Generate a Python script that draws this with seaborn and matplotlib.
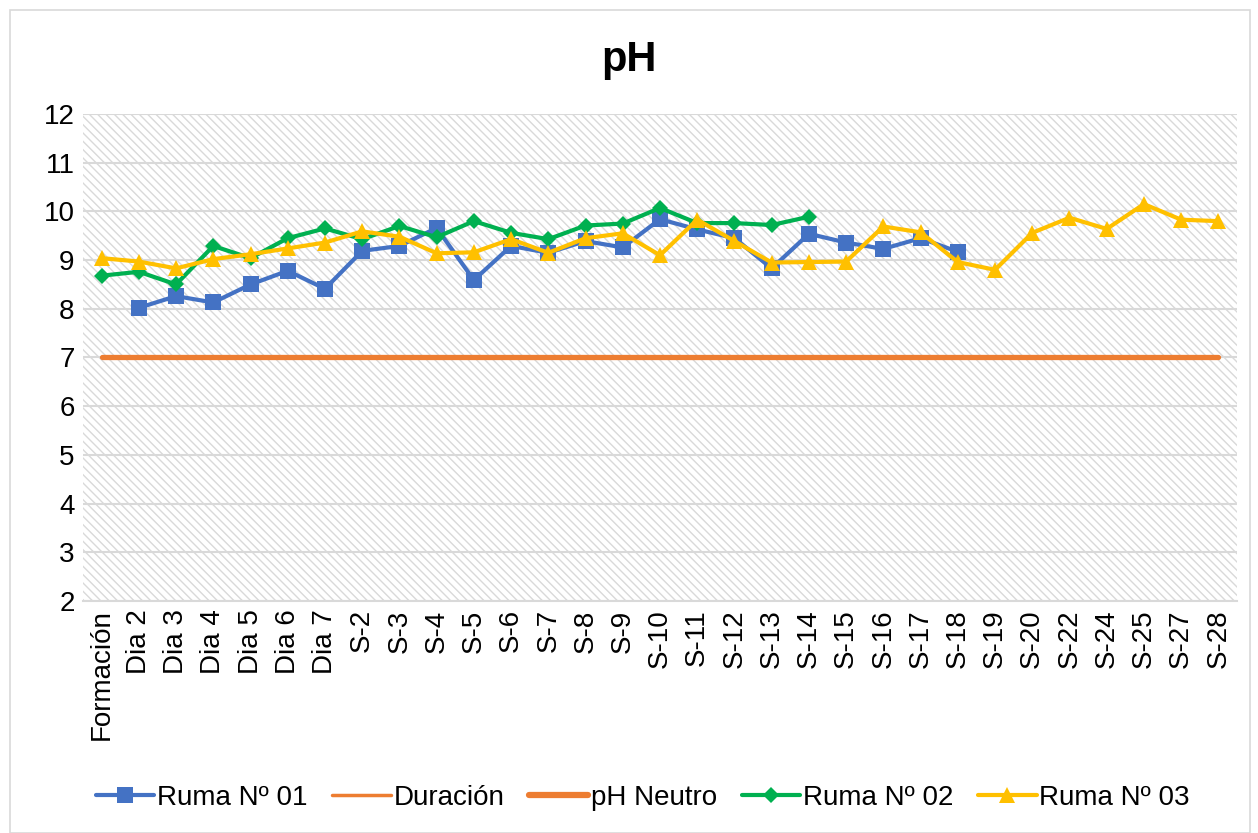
import numpy as np
import pandas as pd
import matplotlib
matplotlib.use("Agg")
import matplotlib.pyplot as plt
from matplotlib.lines import Line2D
from matplotlib.patches import Rectangle
import seaborn as sns

categories = ["Formación", "Dia 2", "Dia 3", "Dia 4", "Dia 5", "Dia 6", "Dia 7",
              "S-2", "S-3", "S-4", "S-5", "S-6", "S-7", "S-8", "S-9", "S-10",
              "S-11", "S-12", "S-13", "S-14", "S-15", "S-16", "S-17", "S-18",
              "S-19", "S-20", "S-22", "S-24", "S-25", "S-27", "S-28"]

nan = np.nan
ruma01 = [nan, 8.02, 8.26, 8.13, 8.50, 8.78, 8.41, 9.19, 9.29, 9.66, 8.59, 9.29,
          9.15, 9.39, 9.26, 9.84, 9.63, 9.45, 8.83, 9.54, 9.36, 9.23, 9.45, 9.17,
          nan, nan, nan, nan, nan, nan, nan]
ruma02 = [8.68, 8.76, 8.50, 9.29, 9.04, 9.45, 9.65, 9.43, 9.70, 9.47, 9.80, 9.56,
          9.43, 9.71, 9.75, 10.07, 9.76, 9.76, 9.72, 9.89,
          nan, nan, nan, nan, nan, nan, nan, nan, nan, nan, nan]
ruma03 = [9.04, 8.97, 8.83, 9.02, 9.12, 9.24, 9.36, 9.59, 9.48, 9.14, 9.16, 9.43,
          9.15, 9.45, 9.55, 9.10, 9.83, 9.39, 8.95, 8.96, 8.97, 9.69, 9.57, 8.96,
          8.80, 9.56, 9.87, 9.64, 10.15, 9.83, 9.80]
ph_neutro = [7] * len(categories)

yticks = list(range(2, 13))

BLUE = "#4472C4"
ORANGE = "#ED7D31"
GREEN = "#00B050"
YELLOW = "#FFC000"
GRID = "#D9D9D9"
HATCH = "#D9D9D9"

sns.set_theme(style="white")
plt.rcParams["font.family"] = ["Liberation Sans", "DejaVu Sans"]
plt.rcParams["text.color"] = "black"
plt.rcParams["hatch.color"] = HATCH
plt.rcParams["hatch.linewidth"] = 1.0

fig = plt.figure(figsize=(12.58, 8.33), dpi=100)
ax = fig.add_axes([83 / 1258, 1 - 601 / 833, (1237 - 83) / 1258, (601 - 114) / 833])

# hatched plot background
ax.add_patch(Rectangle((0, 0), 1, 1, transform=ax.transAxes, facecolor="white",
                       edgecolor=HATCH, linewidth=0, hatch="\\\\\\\\", zorder=0))

x = np.arange(len(categories))
df = pd.DataFrame({"x": x, "r1": ruma01, "r2": ruma02, "r3": ruma03, "ph": ph_neutro})

sns.lineplot(data=df, x="x", y="ph", ax=ax, color=ORANGE, linewidth=3.8, zorder=3)
sns.lineplot(data=df, x="x", y="r1", ax=ax, color=BLUE, linewidth=3.0,
             marker="s", markersize=11, markeredgewidth=0, zorder=4)
sns.lineplot(data=df, x="x", y="r2", ax=ax, color=GREEN, linewidth=3.0,
             marker="D", markersize=8.5, markeredgewidth=0, zorder=5)
sns.lineplot(data=df, x="x", y="r3", ax=ax, color=YELLOW, linewidth=3.0,
             marker="^", markersize=12, markeredgewidth=0, zorder=6)

ax.set_xlim(-0.5, len(categories) - 0.5)
ax.set_ylim(2, 12)
ax.set_yticks(yticks)
ax.set_yticklabels([str(t) for t in yticks], fontsize=20)
ax.set_xticks(x)
ax.set_xticklabels(categories, rotation=90, fontsize=20)
ax.tick_params(axis="both", length=0, pad=6, colors="black")
ax.set_xlabel("")
ax.set_ylabel("")
ax.grid(axis="y", color=GRID, linewidth=1.5, zorder=1)
ax.set_axisbelow(True)
for s in ["left", "right", "top"]:
    ax.spines[s].set_visible(False)
ax.spines["bottom"].set_color(GRID)
ax.spines["bottom"].set_linewidth(1.5)

fig.text(0.5, 1 - 60 / 833, "pH", ha="center", va="center",
         fontsize=30, fontweight="bold", color="black")

handles = [
    Line2D([], [], color=BLUE, lw=3, marker="s", markersize=11, markeredgewidth=0),
    Line2D([], [], color=ORANGE, lw=2.5),
    Line2D([], [], color=ORANGE, lw=4.5),
    Line2D([], [], color=GREEN, lw=3, marker="D", markersize=8.5, markeredgewidth=0),
    Line2D([], [], color=YELLOW, lw=3, marker="^", markersize=12, markeredgewidth=0),
]
labels = ["Ruma Nº 01", "Duración", "pH Neutro", "Ruma Nº 02", "Ruma Nº 03"]
leg = fig.legend(handles, labels, loc="center", bbox_to_anchor=(0.511, 1 - 798 / 833),
                 ncol=5, frameon=False, fontsize=20, handlelength=2.1,
                 handletextpad=0.1, columnspacing=0.9)
for t in leg.get_texts():
    t.set_color("black")

fig.add_artist(Rectangle((10 / 1258, 0.0), 1240 / 1258, 1 - 10 / 833,
                         transform=fig.transFigure, fill=False,
                         edgecolor="#D9D9D9", linewidth=1.2))

fig.savefig("out.png", dpi=100)
